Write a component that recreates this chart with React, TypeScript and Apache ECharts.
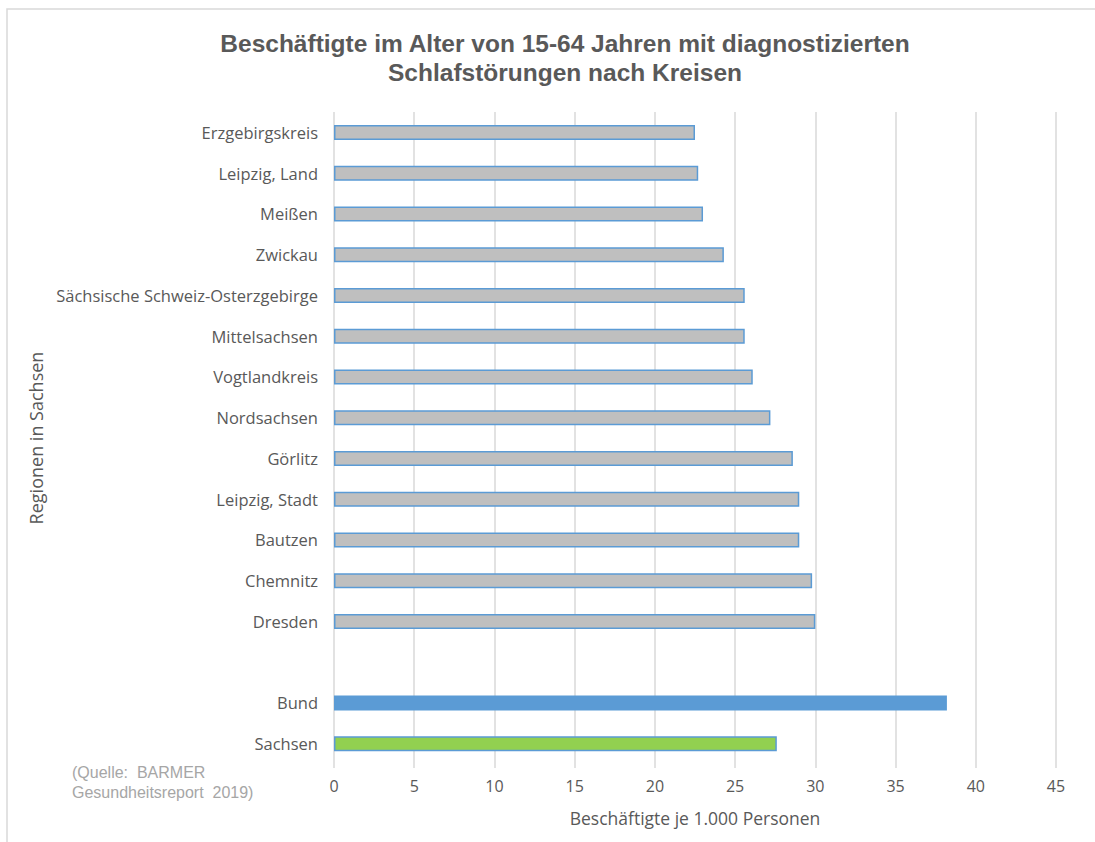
import React, { useEffect, useRef } from "react";
import * as echarts from "echarts";

const categories = [
  "Erzgebirgskreis",
  "Leipzig, Land",
  "Meißen",
  "Zwickau",
  "Sächsische Schweiz-Osterzgebirge",
  "Mittelsachsen",
  "Vogtlandkreis",
  "Nordsachsen",
  "Görlitz",
  "Leipzig, Stadt",
  "Bautzen",
  "Chemnitz",
  "Dresden",
  "",
  "Bund",
  "Sachsen",
];

const values: (number | null)[] = [
  22.5, 22.7, 23.0, 24.3, 25.6, 25.6, 26.1, 27.2, 28.6, 29.0, 29.0, 29.8, 30.0,
  null, 38.2, 27.6,
];

const xTicks = [0, 5, 10, 15, 20, 25, 30, 35, 40, 45];

const titleText = "Beschäftigte im Alter von 15-64 Jahren mit diagnostizierten\nSchlafstörungen nach Kreisen";
const xAxisName = "Beschäftigte je 1.000 Personen";
const yAxisName = "Regionen in Sachsen";
const sourceText = "(Quelle:  BARMER\nGesundheitsreport  2019)";

const BORDER_BLUE = "#5B9BD5";
const GREY = "#BFBFBF";
const GREEN = "#92D050";

export default function App() {
  const ref = useRef<HTMLDivElement>(null);

  useEffect(() => {
    if (!ref.current) return;
    const chart = echarts.init(ref.current, undefined, { renderer: "svg" });

    const data = categories.map((c, i) => {
      const v = values[i];
      let color = GREY;
      if (c === "Bund") color = BORDER_BLUE;
      else if (c === "Sachsen") color = GREEN;
      return {
        value: v === null ? "-" : v,
        itemStyle: {
          color,
          borderColor: BORDER_BLUE,
          borderWidth: 1.5,
        },
      };
    });

    chart.setOption({
      animation: false,
      backgroundColor: "#ffffff",
      title: {
        text: titleText,
        left: 560,
        textAlign: "center",
        top: 24,
        textStyle: {
          fontFamily: "Liberation Sans",
          fontWeight: "bold",
          fontSize: 24.5,
          lineHeight: 29,
          color: "#595959",
        },
      },
      grid: {
        left: 334,
        right: 39,
        top: 112,
        bottom: 78,
        containLabel: false,
      },
      xAxis: {
        type: "value",
        min: xTicks[0],
        max: xTicks[xTicks.length - 1],
        interval: 5,
        name: xAxisName,
        nameLocation: "middle",
        nameGap: 45,
        nameTextStyle: {
          fontFamily: "Open Sans",
          fontSize: 17.5,
          color: "#595959",
        },
        axisLine: { show: false },
        axisTick: {
          show: true,
          length: 4,
          lineStyle: { color: "#D9D9D9", width: 1.5 },
        },
        axisLabel: {
          fontFamily: "Open Sans",
          fontSize: 16,
          color: "#595959",
          margin: 14,
        },
        splitLine: {
          show: true,
          lineStyle: { color: "#D9D9D9", width: 1.5 },
        },
      },
      yAxis: {
        type: "category",
        inverse: true,
        data: categories,
        name: yAxisName,
        nameLocation: "middle",
        nameRotate: 90,
        nameGap: 283,
        nameTextStyle: {
          fontFamily: "Open Sans",
          fontSize: 18,
          color: "#595959",
        },
        axisLine: { show: false },
        axisTick: { show: false },
        axisLabel: {
          fontFamily: "Open Sans",
          fontSize: 16.5,
          color: "#595959",
          margin: 16,
        },
        splitLine: { show: false },
      },
      series: [
        {
          type: "bar",
          data,
          barWidth: 15,
        },
      ],
      graphic: [
        {
          type: "rect",
          shape: { x: 7, y: 9, width: 1200, height: 900 },
          style: { fill: "none", stroke: "#D9D9D9", lineWidth: 1.5 },
          silent: true,
        },
        {
          type: "text",
          x: 72,
          y: 762,
          style: {
            text: sourceText,
            fontFamily: "Liberation Sans",
            fontSize: 16,
            lineHeight: 20,
            fill: "#A6A6A6",
          },
          silent: true,
        },
      ],
    });

    return () => chart.dispose();
  }, []);

  return (
    <div
      ref={ref}
      style={{ position: "fixed", left: 0, top: 0, width: 1095, height: 842 }}
    />
  );
}
